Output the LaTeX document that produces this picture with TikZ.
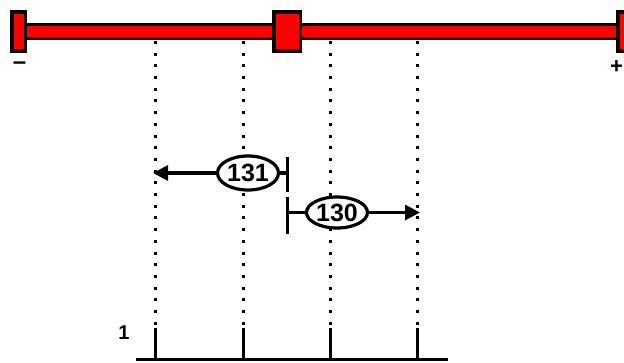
\documentclass[tikz,border=0pt]{standalone}
\usepackage{fontspec}
\setmainfont{Liberation Sans}
\usetikzlibrary{arrows.meta,positioning,calc,shapes.geometric}
\tikzset{
  rail/.style={draw=black, line width=3.5pt, fill=red},
  limblock/.style={draw=black, line width=3.5pt, fill=red, inner sep=0pt, minimum height=39pt},
  grid/.style={line width=3pt, dash pattern=on 3pt off 8.7pt},
  tick/.style={line width=3pt},
  vlabel/.style={ellipse, draw, fill=white, line width=3.2pt, inner sep=0pt, font=\bfseries\fontsize{25}{25}\selectfont},
  arr/.style={-{Triangle[length=15pt,width=15pt]}, line width=3.2pt},
  bar/.style={line width=3pt},
}

\begin{document}
\begin{tikzpicture}[x=1pt,y=-1pt]
  \useasboundingbox (0,0) rectangle (624,363);
  \clip (0,0) rectangle (624,363);
  % rail with limits
  \draw[rail] (20,24.5) rectangle (620,38.5);
  \node[limblock, minimum width=13.5pt] (lminus) at (18.5,31.5) {};
  \node[limblock, minimum width=26.5pt] (home) at (287,31.5) {};
  \node[limblock, minimum width=13.5pt] (lplus) at (624.5,31.5) {};
  \node[font=\bfseries\fontsize{24}{24}\selectfont] (sminus) at (19.5,66) {--};
  \node[font=\bfseries\fontsize{22}{22}\selectfont, inner sep=0pt] (splus) at (616.5,67) {+};
  % grid
  \foreach \i/\x in {1/155,2/243,3/330,4/417} {
    \coordinate (p\i) at (\x,41);
    \coordinate (q\i) at (\x,328);
    \coordinate (b\i) at (\x,360);
    \draw[grid] (p\i) -- (q\i);
    \draw[tick] (q\i) -- (b\i);
  }
  \coordinate (base0) at (136,359.5);
  \coordinate (base1) at (448,359.5);
  \draw[line width=2.2pt] (base0) -- (base1);
  \node[font=\bfseries\fontsize{20}{20}\selectfont] (one) at (124,333) {1};
  % offsets
  \node[vlabel, minimum width=61pt, minimum height=34pt] (v131) at (248,173) {131};
  \node[vlabel, minimum width=61pt, minimum height=31pt] (v130) at (337,212.5) {130};
  \coordinate (s131a) at (287,157);
  \coordinate (s131b) at (287,192);
  \coordinate (s130a) at (287,197);
  \coordinate (s130b) at (287,234);
  \draw[bar] (s131a) -- (s131b);
  \draw[bar] (s130a) -- (s130b);
  \draw[line width=3.2pt] (v131.east) -- (s131a |- v131);
  \draw[line width=3.2pt] (v130.west) -- (s130a |- v130);
  \draw[arr] (v131.west) -- ($(p1 |- v131)+(-2,0)$);
  \draw[arr] (v130.east) -- ($(p4 |- v130)+(3,0)$);
\end{tikzpicture}
\end{document}
